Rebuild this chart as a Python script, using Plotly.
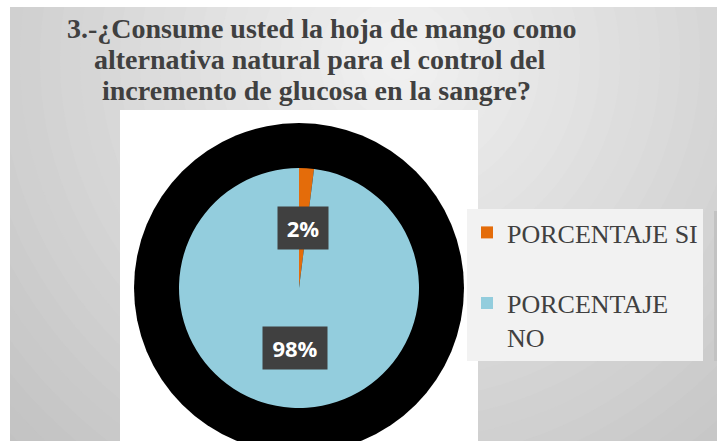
import math
import plotly.graph_objects as go

# ---- data ----
categories = ["PORCENTAJE SI", "PORCENTAJE NO"]
legend_labels = ["PORCENTAJE SI<br> ", "PORCENTAJE<br>NO"]
values = [2, 98]
colors = ["#E46C0A", "#93CDDD"]
title_lines = ["3.-¿Consume usted la hoja de mango como",
               "alternativa natural para el control del",
               "incremento de glucosa en la sangre?"]

W, H = 717, 441


def px(x):
    return x / W


def py(y):
    return 1 - y / H


# pie geometry (pixels)
CX, CY, R = 299, 288, 120
RING = 165

shapes = []
# radial-ish gray gradient background
gcx, gcy = 400, 60
for r in range(560, 0, -20):
    v = int(round(242 - 0.086 * r))
    v = max(0, min(255, v))
    col = "rgb(%d,%d,%d)" % (v, v, v)
    shapes.append(dict(type="circle", xref="paper", yref="paper",
                       x0=px(gcx - r), x1=px(gcx + r), y0=py(gcy + r), y1=py(gcy - r),
                       fillcolor=col, line=dict(width=0), layer="below"))
# white strips on top and left
shapes.append(dict(type="rect", xref="paper", yref="paper", x0=0, x1=1, y0=py(7), y1=1,
                   fillcolor="white", line=dict(width=0), layer="below"))
shapes.append(dict(type="rect", xref="paper", yref="paper", x0=0, x1=px(10), y0=0, y1=1,
                   fillcolor="white", line=dict(width=0), layer="below"))
# white plot area
shapes.append(dict(type="rect", xref="paper", yref="paper", x0=px(120), x1=px(478),
                   y0=py(445), y1=py(110), fillcolor="white", line=dict(width=0), layer="below"))
# black ring
shapes.append(dict(type="circle", xref="paper", yref="paper",
                   x0=px(CX - RING), x1=px(CX + RING), y0=py(CY + RING), y1=py(CY - RING),
                   fillcolor="black", line=dict(width=0), layer="below"))
# thin legend shadow on the right
shapes.append(dict(type="rect", xref="paper", yref="paper", x0=px(714), x1=px(717),
                   y0=py(361), y1=py(211), fillcolor="#c2c2c2", line=dict(width=0), layer="below"))

fig = go.Figure(go.Pie(
    labels=legend_labels,
    values=values,
    marker=dict(colors=colors, line=dict(width=0)),
    sort=False,
    direction="clockwise",
    rotation=0,
    textinfo="none",
    hoverinfo="label+percent",
    domain=dict(x=[px(CX - R), px(CX + R)], y=[py(CY + R), py(CY - R)]),
))

annotations = []
# title, one annotation per line (tight line spacing as in the reference)
title_y = [28, 59, 91]
title_x = [321, 320, 316]
for t, yy, xx in zip(title_lines, title_y, title_x):
    annotations.append(dict(
        x=px(xx), y=py(yy), xref="paper", yref="paper", showarrow=False,
        xanchor="center", yanchor="middle", text="<b>%s</b>" % t,
        font=dict(family="Liberation Serif", size=28, color="#404040"),
    ))

# data labels in dark boxes, positioned at half radius along slice mid-angle
total = sum(values)
cum = 0
for v in values:
    mid = (cum + v / 2) / total * 2 * math.pi
    cum += v
    lx = CX + 0.5 * R * math.sin(mid)
    ly = CY - 0.5 * R * math.cos(mid)
    txt = "%d%%" % round(v / total * 100)
    annotations.append(dict(
        x=px(lx), y=py(ly), xref="paper", yref="paper", showarrow=False,
        xanchor="center", yanchor="middle",
        text="<b>%s</b>" % txt,
        font=dict(family="Open Sans", size=22, color="white"),
        bgcolor="#404040", borderpad=5,
        width=14 * len(txt) + 12, height=32,
    ))

fig.update_layout(
    width=W, height=H, autosize=False,
    margin=dict(l=0, r=0, t=0, b=0),
    paper_bgcolor="#d6d6d6",
    plot_bgcolor="#d6d6d6",
    shapes=shapes,
    annotations=annotations,
    showlegend=True,
    legend=dict(x=px(467), y=py(209), xanchor="left", yanchor="top",
                bgcolor="#f2f2f2", borderwidth=0, valign="top",
                entrywidth=207,
                font=dict(family="Liberation Serif", size=26, color="#404040")),
)

fig.write_html("out.html", config={"displayModeBar": False},
               post_script="document.body.style.margin='0';")
